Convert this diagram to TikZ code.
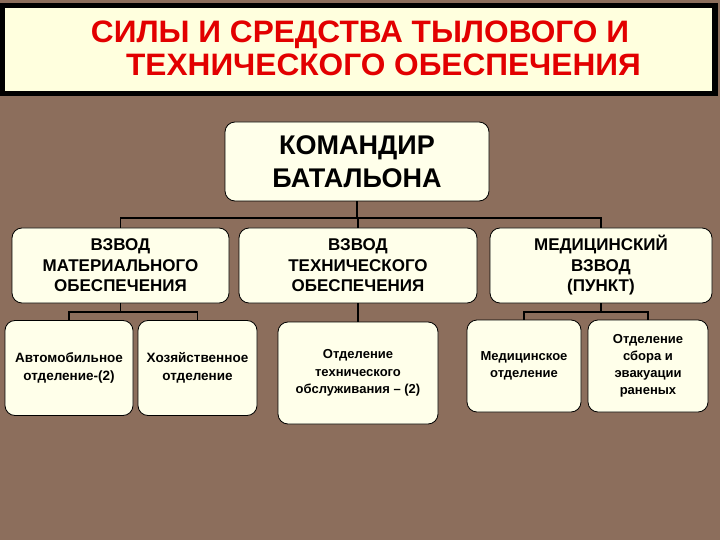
\documentclass[tikz,border=0pt]{standalone}
\usepackage{fontspec}
\setmainfont{Liberation Sans}
\usepackage{xcolor}
\usepackage{tikz}
\usetikzlibrary{
  positioning,
  calc
}
\definecolor{bgbrown}{RGB}{140,110,92}
\definecolor{titlefill}{RGB}{255,255,222}
\definecolor{boxfill}{RGB}{255,255,234}
\definecolor{titlered}{RGB}{226,0,0}
\tikzset{
  box/.style={draw=black,line width=0.8pt,fill=boxfill,rounded corners=10pt,
    align=center,inner sep=2pt,font=\bfseries},
  link/.style={draw=black,line width=1.6pt},
  titletext/.style={text=titlered,inner sep=0pt,font=\bfseries\fontsize{31}{34}\selectfont}
}

\begin{document}
\begin{tikzpicture}[x=1pt,y=-1pt]
  \fill[bgbrown] (0,0) rectangle (720,540);
  \useasboundingbox (0,0) rectangle (720,540);

  \draw[line width=5.5pt,fill=titlefill] (2.5,5.5) rectangle (715,93.5);
  \node[titletext] (title1) at (360,34.5)
    {\scalebox{1.02}[1]{СИЛЫ И СРЕДСТВА ТЫЛОВОГО И}};
  \node[titletext] (title2) at (383.5,64.5)
    {\scalebox{1.02}[1]{ТЕХНИЧЕСКОГО ОБЕСПЕЧЕНИЯ}};

  \node[box,minimum width=264pt,minimum height=79pt,
    font=\bfseries\fontsize{27}{33}\selectfont] (kombat) at (357,161.5)
    {КОМАНДИР\\БАТАЛЬОНА};

  \node[box,minimum width=217pt,minimum height=75pt,
    font=\bfseries\fontsize{17}{20.5}\selectfont] (vmo) at (120.5,265.5)
    {ВЗВОД\\МАТЕРИАЛЬНОГО\\ОБЕСПЕЧЕНИЯ};
  \node[box,minimum width=238pt,minimum height=75pt,
    font=\bfseries\fontsize{17}{20.5}\selectfont] (vto) at (358,265.5)
    {ВЗВОД\\ТЕХНИЧЕСКОГО\\ОБЕСПЕЧЕНИЯ};
  \node[box,minimum width=222pt,minimum height=75pt,
    font=\bfseries\fontsize{17}{20.5}\selectfont] (medv) at (601,265.5)
    {МЕДИЦИНСКИЙ\\ВЗВОД\\(ПУНКТ)};

  \node[box,minimum width=128pt,minimum height=95pt,
    font=\bfseries\fontsize{13.5}{18}\selectfont] (avto) at (69,368)
    {Автомобильное\\отделение-(2)};
  \node[box,minimum width=119pt,minimum height=95pt,
    font=\bfseries\fontsize{13.5}{18}\selectfont] (hoz) at (197.5,368)
    {Хозяйственное\\отделение};
  \node[box,minimum width=160pt,minimum height=102pt,
    font=\bfseries\fontsize{13}{17.5}\selectfont] (tehobs) at (358,373)
    {Отделение\\технического\\обслуживания -- (2)};
  \node[box,minimum width=114pt,minimum height=92pt,
    font=\bfseries\fontsize{13}{17.5}\selectfont] (medotd) at (524,366)
    {Медицинское\\отделение};
  \node[box,minimum width=120pt,minimum height=92pt,
    font=\bfseries\fontsize{13}{17}\selectfont] (sbor) at (648,366)
    {Отделение\\сбора и\\эвакуации\\раненых};

  \coordinate (bus1) at (357,218);
  \coordinate (bus2) at (120.5,312);
  \coordinate (bus3) at (601,312);

  \draw[link] (kombat.south) -- (bus1);
  \draw[link] (vmo.north) |- (bus1) -| (medv.north);
  \draw[link] (vto.north) -- (vto.north |- bus1);

  \draw[link] (vmo.south) -- (bus2);
  \draw[link] (avto.north) |- (bus2) -| (hoz.north);
  \draw[link] (vto.south) -- (tehobs.north);
  \draw[link] (medv.south) -- (bus3);
  \draw[link] (medotd.north) |- (bus3) -| (sbor.north);
\end{tikzpicture}
\end{document}
